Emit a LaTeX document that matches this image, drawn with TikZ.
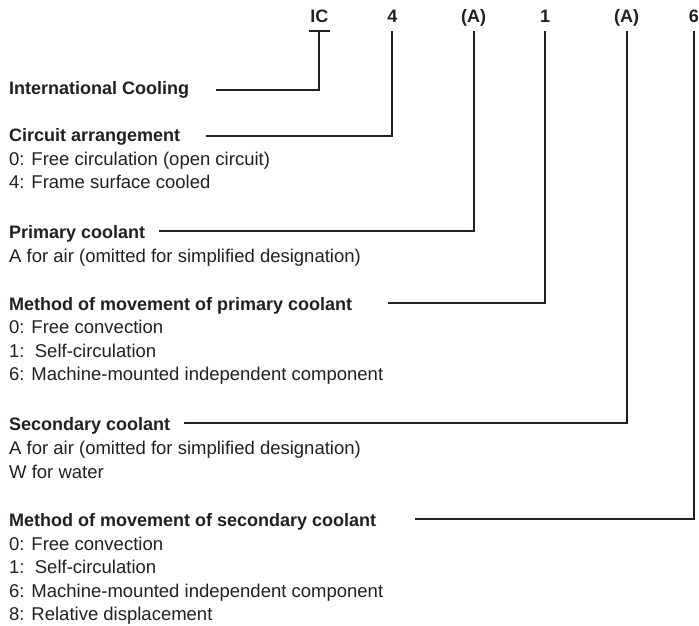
\documentclass[tikz,border=0pt]{standalone}
\usepackage{fontspec}
\setmainfont{Liberation Sans}
\usepackage{tikz}
\usetikzlibrary{calc}
\definecolor{ink}{HTML}{231F20}
\tikzstyle{code} = [anchor=base, inner sep=0pt, text height=13pt, text depth=8pt, font=\bfseries\fontsize{18}{22}\selectfont, text=ink]
\tikzstyle{heading} = [anchor=base west, inner sep=0pt, font=\bfseries\fontsize{18}{22}\selectfont, text=ink]
\tikzstyle{item} = [anchor=base west, inner sep=0pt, font=\fontsize{18.5}{22}\selectfont, text=ink]
\tikzstyle{leader} = [line width=2pt, draw=ink]

\begin{document}
\begin{tikzpicture}[x=1pt, y=-1pt]
        \useasboundingbox (0,0) rectangle (699,626);

        % code letters along the top
        \node(ic) [code] at (319.3, 23) {IC};
        \node(circ) [code] at (392.3, 23) {4};
        \node(prim) [code] at (473.5, 23) {(A)};
        \node(primmove) [code] at (545, 23) {1};
        \node(sec) [code] at (626.7, 23) {(A)};
        \node(secmove) [code] at (693.8, 23) {6};

        % headings and their entries
        \node(hdic) [heading] at (9, 95) {International Cooling};

        \node(hdcirc) [heading] at (9, 141.5) {Circuit arrangement};
        \node(circ0) [item] at (9, 165) {0: Free circulation (open circuit)};
        \node(circ4) [item] at (9, 188.5) {4: Frame surface cooled};

        \node(hdprim) [heading] at (9, 238) {Primary coolant};
        \node(primA) [item] at (9, 262) {A for air (omitted for simplified designation)};

        \node(hdprimmove) [heading] at (9, 310) {Method of movement of primary coolant};
        \node(primmove0) [item] at (9, 333.5) {0: Free convection};
        \node(primmove1) [item] at (9, 357) {1:\ \ Self-circulation};
        \node(primmove6) [item] at (9, 380.5) {6: Machine-mounted independent component};

        \node(hdsec) [heading] at (9, 430) {Secondary coolant};
        \node(secA) [item] at (9, 454.5) {A for air (omitted for simplified designation)};
        \node(secW) [item] at (9, 478) {W for water};

        \node(hdsecmove) [heading] at (9, 526.5) {Method of movement of secondary coolant};
        \node(secmove0) [item] at (9, 550) {0: Free convection};
        \node(secmove1) [item] at (9, 573.5) {1:\ \ Self-circulation};
        \node(secmove6) [item] at (9, 597) {6: Machine-mounted independent component};
        \node(secmove8) [item] at (9, 620.5) {8: Relative displacement};

        % ends of the leader lines
        \coordinate(icend) at (216, 90);
        \coordinate(circend) at (206, 135.7);
        \coordinate(primend) at (159.3, 230.7);
        \coordinate(primmoveend) at (388, 303.3);
        \coordinate(secend) at (184.3, 423.3);
        \coordinate(secmoveend) at (415, 519);

        \draw[leader] ([xshift=-10.6pt]ic.south) -- ([xshift=10.6pt]ic.south);
        \draw[leader] (ic.south) |- (icend);
        \draw[leader] (circ.south) |- (circend);
        \draw[leader] (prim.south) |- (primend);
        \draw[leader] (primmove.south) |- (primmoveend);
        \draw[leader] (sec.south) |- (secend);
        \draw[leader] (secmove.south) |- (secmoveend);
    \end{tikzpicture}
\end{document}
